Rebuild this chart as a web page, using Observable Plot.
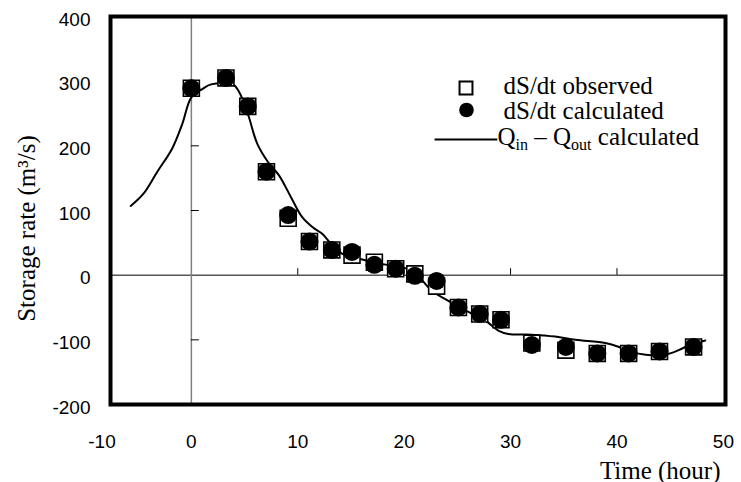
<!DOCTYPE html>
<html>
<head>
<meta charset="utf-8">
<script src="https://cdn.jsdelivr.net/npm/d3@7"></script>
<script src="https://cdn.jsdelivr.net/npm/@observablehq/plot@0.6"></script>
<style>
  html, body { margin: 0; padding: 0; background: white; }
</style>
</head>
<body>
<div id="chart"></div>
<script>
// Observation times (hour)
const time = [0, 3.25, 5.3, 7.06, 9.1, 11.1, 13.2, 15.1, 17.2, 19.2, 21.0, 23.05, 25.1, 27.1, 29.1, 32.0, 35.2, 38.15, 41.1, 44.0, 47.2];
// dS/dt observed (m3/s)
const observed = [289, 305, 261, 160, 88, 52, 39, 31, 20, 10, 2, -17, -50, -60, -69, -105, -116, -121, -121, -118, -111];
// dS/dt calculated (m3/s)
const calculated = [289, 305, 261, 160, 93, 52, 39, 36, 16, 10, -1, -9, -50, -60, -69, -108, -111, -121, -121, -118, -111];
// Qin - Qout calculated curve
const lineTime = [-5.7, -4.5, -3.2, -1.8, -0.85, 0, 1.06, 1.85, 3.9, 4.5, 5.3, 6.2, 7.2, 8.25, 9.35, 10.4, 11.4, 12.3, 13.25, 14.2, 15.45, 17.3, 19.8, 21.1, 21.7, 22.6, 24.4, 25.8, 27.6, 28.9, 29.8, 32.0, 34.2, 36.1, 38.9, 40.2, 41.4, 42.7, 44.5, 45.8, 46.7, 48.3];
const lineValue = [107, 126, 160, 196, 234, 275, 288, 295, 295, 283, 250, 203, 175, 154, 121, 90, 74, 64, 46, 33, 27, 19, 12, 5, -8, -24, -42, -55, -70, -86, -91, -92, -95, -100, -105, -111, -119, -123, -123, -116, -109, -101];

// Axis ticks
const xTickValues = [-8.4, 0, 10, 20, 30, 40, 50];
const xTickLabels = ["-10", "0", "10", "20", "30", "40", "50"];
const yTickValues = [-200, -100, 0, 100, 200, 300, 400];
const yTickLabels = ["-200", "-100", "0", "100", "200", "300", "400"];
const xMinorTicks = [10, 20, 30, 40];
const yMinorTicks = [-200, -100, 100, 200, 300];

const legendLabels = ["dS/dt observed", "dS/dt calculated", "Qin – Qout calculated"];

const obsData = time.map((t, i) => ({t, v: observed[i]}));
const calcData = time.map((t, i) => ({t, v: calculated[i]}));
const lineData = lineTime.map((t, i) => ({t, v: lineValue[i]}));

const serif = "'Liberation Serif', 'Times New Roman', serif";
const sans = "'Liberation Sans', Arial, sans-serif";
const serifSize = 25;

const chart = Plot.plot({
  width: 741,
  height: 482,
  marginLeft: 110,
  marginRight: 16,
  marginTop: 16,
  marginBottom: 78,
  style: {background: "white", fontFamily: sans, color: "black"},
  x: {domain: [-7.6, 50.2]},
  y: {domain: [-200, 400]},
  marks: [
    Plot.ruleY([0], {stroke: "black", strokeWidth: 1}),
    Plot.ruleX([0], {stroke: "#808080", strokeWidth: 1.5}),
    Plot.ruleX(xMinorTicks, {y1: 0, y2: 10, stroke: "black", strokeWidth: 1}),
    Plot.ruleY(yMinorTicks, {x1: 0, x2: 0.75, stroke: "black", strokeWidth: 1}),
    Plot.line(lineData, {x: "t", y: "v", curve: "catmull-rom", stroke: "black", strokeWidth: 2}),
    Plot.dot(obsData, {x: "t", y: "v", symbol: "square", r: 9, fill: "white", stroke: "black", strokeWidth: 1.6}),
    Plot.dot(calcData, {x: "t", y: "v", r: 9, fill: "black", stroke: "none"}),
    Plot.frame({stroke: "black", strokeWidth: 4}),
    Plot.axisX({ticks: xTickValues, tickFormat: d => xTickLabels[xTickValues.indexOf(d)], tickSize: 0, tickPadding: 30, fontSize: 19, label: null}),
    Plot.axisY({ticks: yTickValues, tickFormat: d => yTickLabels[yTickValues.indexOf(d)], tickSize: 0, tickPadding: 20, fontSize: 19, dy: 3, label: null}),
    // axis titles
    Plot.text(["Time (hour)"], {frameAnchor: "bottom-right", dx: -5, dy: 66, textAnchor: "end", lineAnchor: "middle", fontSize: serifSize, fontFamily: serif}),
    Plot.text(["Storage rate (m³/s)"], {frameAnchor: "left", rotate: -90, dx: -84, dy: 18, textAnchor: "middle", lineAnchor: "middle", fontSize: serifSize, fontFamily: serif}),
    // legend
    Plot.dot([0], {frameAnchor: "top-left", dx: 355.5, dy: 71.5, symbol: "square", r: 7.3, fill: "white", stroke: "black", strokeWidth: 2}),
    Plot.dot([0], {frameAnchor: "top-left", dx: 356, dy: 93.5, r: 7.3, fill: "black"}),
    Plot.ruleY([209.8], {x1: 22.9, x2: 28.8, stroke: "black", strokeWidth: 1.8}),
    Plot.text([legendLabels[0]], {frameAnchor: "top-left", dx: 393, dy: 69, textAnchor: "start", lineAnchor: "middle", fontSize: serifSize, fontFamily: serif}),
    Plot.text([legendLabels[1]], {frameAnchor: "top-left", dx: 393, dy: 94, textAnchor: "start", lineAnchor: "middle", fontSize: serifSize, fontFamily: serif}),
    Plot.text([legendLabels[2]], {frameAnchor: "top-left", dx: 387, dy: 120, textAnchor: "start", lineAnchor: "middle", fontSize: serifSize, fontFamily: serif})
  ]
});

// subscripts for Qin / Qout
d3.select(chart).selectAll("text").filter(function() { return this.textContent === legendLabels[2]; })
  .each(function() {
    const t = d3.select(this);
    t.text(null);
    t.append("tspan").text("Q");
    t.append("tspan").attr("font-size", 16).attr("dy", 5).text("in");
    t.append("tspan").attr("dy", -5).text(" – Q");
    t.append("tspan").attr("font-size", 16).attr("dy", 5).text("out");
    t.append("tspan").attr("dy", -5).text(" calculated");
  });

document.getElementById("chart").appendChild(chart);
</script>
</body>
</html>
